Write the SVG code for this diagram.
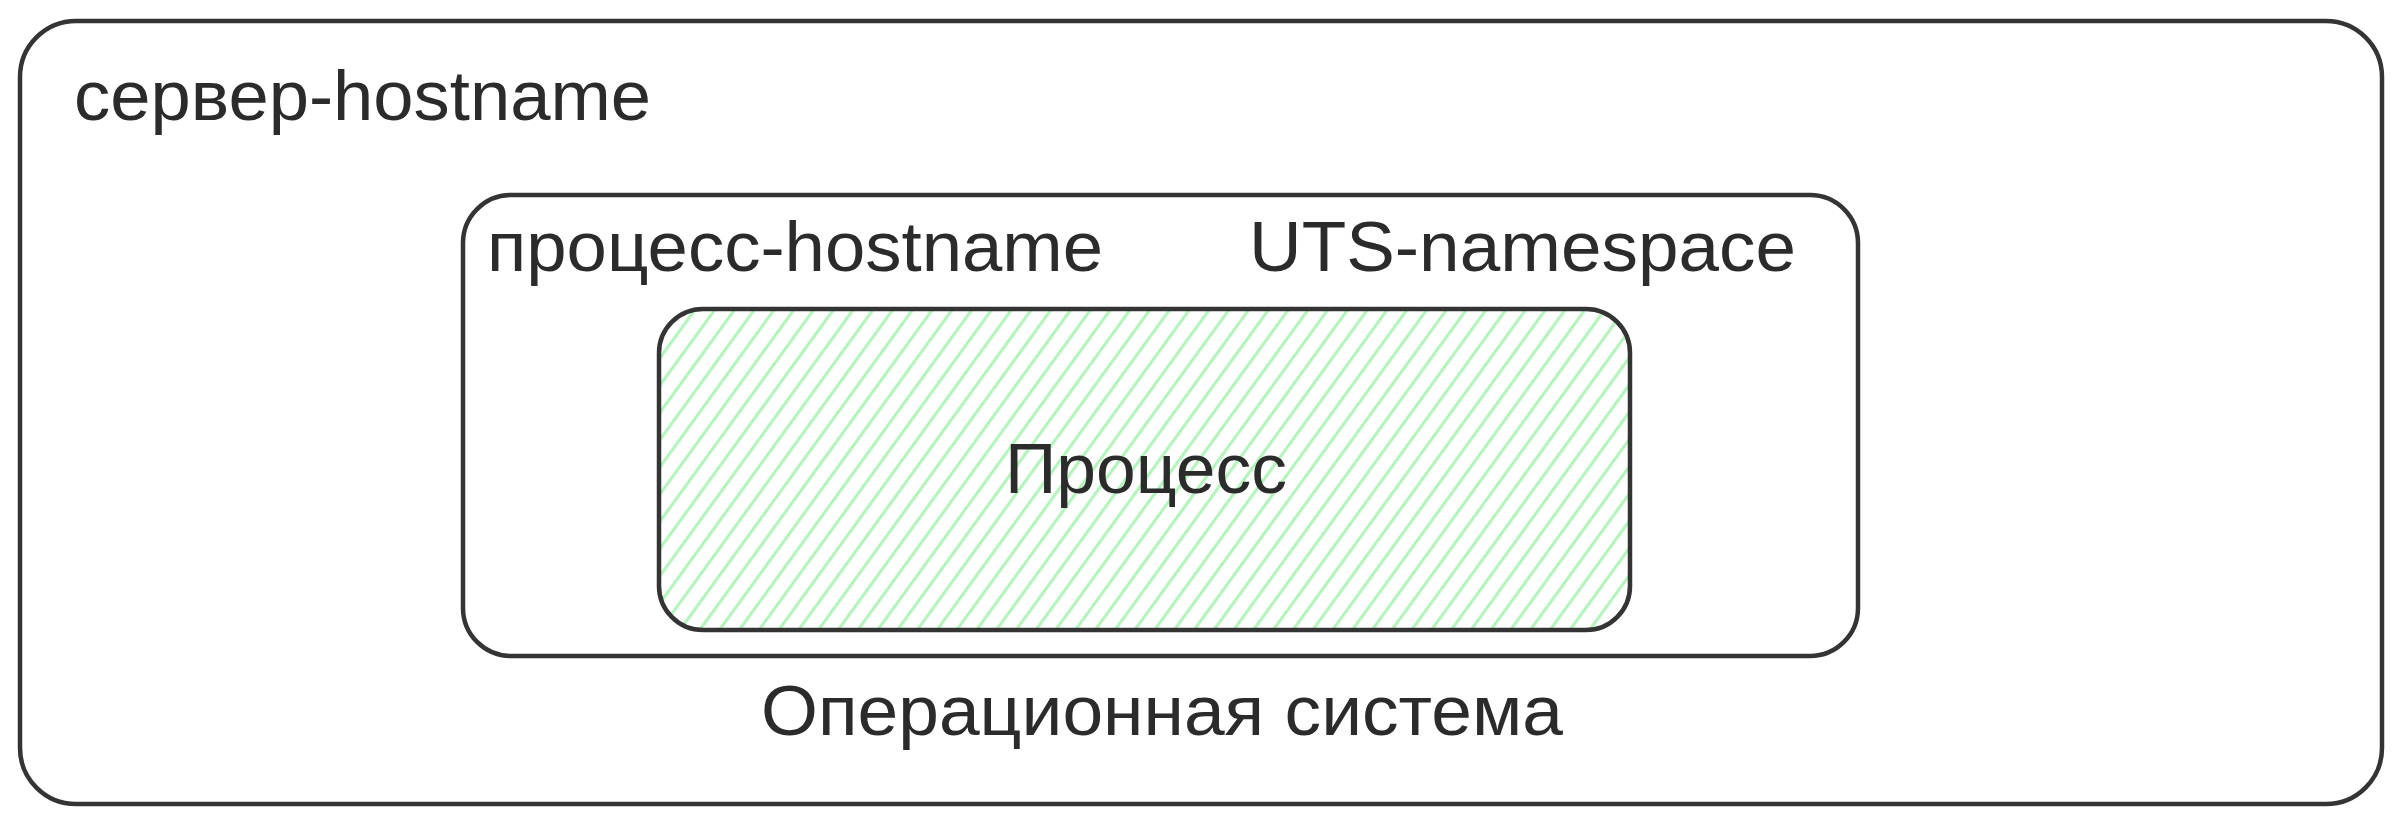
<svg xmlns="http://www.w3.org/2000/svg" width="2402" height="825" viewBox="0 0 2402 825">
<style>
.box{fill:none;stroke:#343434;stroke-width:4.5;stroke-linejoin:round}
.lbl{font-family:"Liberation Sans","Noto Sans",sans-serif;font-size:70px;fill:#2b2b2b}
</style>
<defs>
<pattern id="hatch" patternUnits="userSpaceOnUse" width="16" height="40" patternTransform="rotate(36)">
<line x1="8" y1="-5" x2="8" y2="45" stroke="#b2f2bb" stroke-width="2.4"/>
<line x1="9.6" y1="-5" x2="9.6" y2="45" stroke="#b2f2bb" stroke-width="1.2" opacity="0.7"/>
</pattern>
</defs>
<rect width="2402" height="825" fill="#ffffff"/>
<g id="server">
<rect class="box" x="20" y="21" width="2362" height="783" rx="56" ry="56"/>
<text class="lbl" x="74" y="120" textLength="577" lengthAdjust="spacingAndGlyphs">сервер-hostname</text>
<text class="lbl" x="761" y="735" textLength="802" lengthAdjust="spacingAndGlyphs">Операционная система</text>
</g>
<g id="uts-namespace">
<rect class="box" x="463" y="195" width="1395" height="461" rx="48" ry="48"/>
<text class="lbl" x="487" y="271" textLength="616" lengthAdjust="spacingAndGlyphs">процесс-hostname</text>
<text class="lbl" x="1249" y="271" textLength="547" lengthAdjust="spacingAndGlyphs">UTS-namespace</text>
</g>
<g id="process">
<rect x="659" y="309" width="971" height="321" rx="44" ry="44" fill="url(#hatch)"/>
<rect class="box" x="659" y="309" width="971" height="321" rx="44" ry="44"/>
<text class="lbl" x="1005" y="493" textLength="282" lengthAdjust="spacingAndGlyphs">Процесс</text>
</g>
<g id="connectors"/>
</svg>
